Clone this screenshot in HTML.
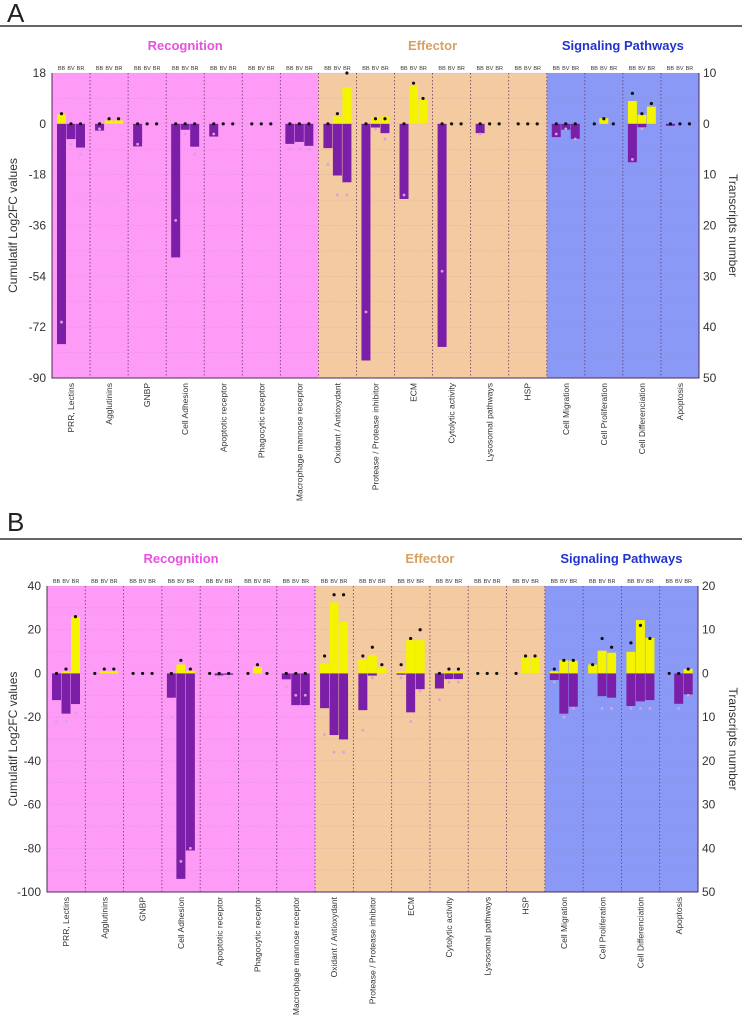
<!DOCTYPE html>
<html><head><meta charset="utf-8"><style>
body{margin:0;background:#fff;}
svg{display:block;font-family:"Liberation Sans",sans-serif;}
</style></head><body>
<svg id="chart" width="742" height="1019" viewBox="0 0 742 1019" xmlns="http://www.w3.org/2000/svg"></svg>
<script>
const categories = ["PRR, Lectins","Agglutinins","GNBP","Cell Adhesion","Apoptotic receptor","Phagocytic receptor","Macrophage mannose receptor","Oxidant / Antioxydant","Protease / Protease inhibitor","ECM","Cytolytic activity","Lysosomal pathways","HSP","Cell Migration","Cell Proliferation","Cell Differenciation","Apoptosis"];
const groupNames = ["Recognition","Effector","Signaling Pathways"];
const groupSizes = [7,6,4];
const conditions = ["BB","BV","BR"];
// Panel A (per category: BB, BV, BR)
const upA = [3.4,0,0, 0,1.2,1.2, 0,0,0, 0,0,0, 0,0,0, 0,0,0, 0,0,0, 0,2.6,12.9, 0,2.4,2.6, 0,13.5,8.5, 0,0,0, 0,0,0, 0,0,0, 0,0,0, 0,2,0, 8.1,3.2,6.1, 0,0,0];
const downA = [-78,-5.4,-8.4, -2.4,0,0, -8,0,0, -47.3,-2.1,-8.1, -4.5,0,0, 0,0,0, -7.1,-6.4,-7.8, -8.6,-18.3,-20.7, -83.8,-1.3,-3.3, -26.6,0,0, -79,0,0, -3.3,0,0, 0,0,0, -4.7,-2.1,-5.3, 0,0,0, -13.6,-1.2,0, -0.7,0,0];
const upCountA = [2,0,0, 0,1,1, 0,0,0, 0,0,0, 0,0,0, 0,0,0, 0,0,0, 0,2,10, 0,1,1, 0,8,5, 0,0,0, 0,0,0, 0,0,0, 0,0,0, 0,1,0, 6,2,4, 0,0,0];
const downCountA = [39,4,6, 1,0,0, 4,0,0, 19,2,6, 2,0,0, 0,0,0, 5,5,5, 8,14,14, 37,1,3, 14,0,0, 29,0,0, 2,0,0, 0,0,0, 2,1,3, 0,0,0, 7,1,0, 0,0,0];
// Panel B
const upB = [0,1,25.9, 0,1,1, 0,0,0, 0,4.1,1.2, 0,0,0, 0,3,0, 0,0,0, 4.6,32.5,23.5, 6.4,8.5,2.7, 1,15.2,15.2, 0,1,1, 0,0,0, 0,7.2,7.2, 1,6,5.8, 4.1,10.4,9.5, 9.9,24.4,16.3, 0,0,2.1];
const downB = [-12.2,-18.4,-14, 0,0,0, 0,0,0, -11.1,-94,-81, 0,-0.9,-0.6, 0,0,0, -2.7,-14.5,-14.5, -15.9,-28.2,-30.2, -16.8,-1,0, -0.6,-17.8,-7.2, -6.9,-2.6,-2.6, 0,0,0, 0,0,0, -3,-18.4,-15.2, 0,-10.4,-11.1, -14.9,-12.8,-12.2, 0,-13.9,-9.6];
const upCountB = [0,1,13, 0,1,1, 0,0,0, 0,3,1, 0,0,0, 0,2,0, 0,0,0, 4,18,18, 4,6,2, 2,8,10, 0,1,1, 0,0,0, 0,4,4, 1,3,3, 2,8,6, 7,11,8, 0,0,1];
const downCountB = [11,11,9, 0,0,0, 0,0,0, 10,43,40, 0,1,1, 0,0,0, 3,5,5, 14,18,18, 13,1,0, 1,11,4, 6,2,2, 0,0,0, 0,0,0, 2,10,8, 0,8,8, 8,8,8, 0,8,5];
const ticksA = [18,0,-18,-36,-54,-72,-90];
const rightTicksA = ["10","0","10","20","30","40","50"];
const ticksB = [40,20,0,-20,-40,-60,-80,-100];
const rightTicksB = ["20","10","0","10","20","30","40","50"];

const NS="http://www.w3.org/2000/svg";
const svg=document.getElementById('chart');
function mk(tag,attrs,parent){const e=document.createElementNS(NS,tag);for(const k in attrs)e.setAttribute(k,attrs[k]);(parent||svg).appendChild(e);return e;}
const bandColors=["#fd9bf6","#f4caa0","#8a98f6"];
const titleColors=["#e94fe0","#d9a062","#2234cf"];

function panel(p){
  const g=mk('g',{});
  
  
  const L=p.left,R=p.right,T=p.top,B=p.bottom;
  const y=v=>T+(p.max-v)/(p.max-p.min)*(B-T);
  const y0=y(0);
  const tScale=(y(p.min)-y0)/p.tMax;
  const yt=n=>y0-n*tScale;
  const ytd=n=>y0+n*tScale;
  const cw=(R-L)/categories.length;
  const cx=i=>L+i*cw;
  const t=mk('text',{x:7,y:p.letterY,'font-size':26,fill:'#222'},g);t.textContent=p.letter;
  
  const rule=mk('line',{x1:0,x2:742,y1:p.ruleY,y2:p.ruleY,stroke:'#333','stroke-width':1.5},g);
  
  let start=0;
  groupNames.forEach((gn,gi)=>{
    const r=mk('rect',{x:cx(start),y:T,width:groupSizes[gi]*cw,height:B-T,fill:bandColors[gi]},g);
    
    
    const tt=mk('text',{x:cx(start)+groupSizes[gi]*cw/2,y:p.titleY,'font-size':13,'font-weight':'bold',fill:titleColors[gi],'text-anchor':'middle'},g);
    tt.textContent=gn;
    
    
    start+=groupSizes[gi];
  });
  for(let v=p.min;v<=p.max+0.001;v+=p.grid){
    const gl=mk('line',{x1:L,x2:R,y1:y(v),y2:y(v),stroke:'#b090b0','stroke-width':0.5,'stroke-dasharray':'1.5,1.5',opacity:0.45},g);
    
  }
  for(let i=1;i<categories.length;i++){
    const vl=mk('line',{x1:cx(i),x2:cx(i),y1:T,y2:B,stroke:'#6a3a6a','stroke-width':0.8,'stroke-dasharray':'1.5,2'},g);
    
  }
  categories.forEach((c,i)=>{
    conditions.forEach((cd,j)=>{
      const k=i*3+j;
      const bx=cx(i)+5+j*9.5, bw=9;
      if(p.up[k]>0){const r=mk('rect',{x:bx,y:y(p.up[k]),width:bw,height:y0-y(p.up[k]),fill:'#f4f400'},g);
        }
      if(p.down[k]<0){const r=mk('rect',{x:bx,y:y0,width:bw,height:y(p.down[k])-y0,fill:'#7b1fa8'},g);
        }
      const dd=mk('circle',{cx:bx+bw/2,cy:ytd(p.downCount[k]),r:1.4,fill:p.downCount[k]>0?'#d9a0d9':'none'},g);
      
      const ud=mk('circle',{cx:bx+bw/2,cy:yt(p.upCount[k]),r:1.6,fill:'#111'},g);
      
      const lb=mk('text',{x:bx+bw/2,y:T-3,'font-size':5.5,fill:'#333','text-anchor':'middle'},g);
      lb.textContent=cd;
    });
    const cl=mk('text',{x:0,y:0,'font-size':8.5,fill:'#333','text-anchor':'end',transform:`translate(${cx(i)+cw/2+3},${B+5}) rotate(-90)`},g);
    cl.textContent=c;
  });
  const ax=mk('path',{d:`M${L},${T}V${B}H${R}V${T}`,fill:'none',stroke:'#4a2a5a','stroke-width':1},g);
  
  p.ticks.forEach(v=>{
    const tl=mk('text',{x:L-6,y:y(v)+4,'font-size':12,fill:'#333','text-anchor':'end'},g);
    tl.textContent=v;
  });
  p.rticks.forEach((s,i)=>{
    const yy=T+i*(B-T)/(p.rticks.length-1);
    const tl=mk('text',{x:R+4,y:yy+4,'font-size':12,fill:'#333'},g);
    tl.textContent=s;
  });
  const yl=mk('text',{x:0,y:0,'font-size':12,fill:'#333','text-anchor':'middle',transform:`translate(17,${(T+B)/2}) rotate(-90)`},g);
  yl.textContent='Cumulatif Log2FC values';
  const yr=mk('text',{x:0,y:0,'font-size':12,fill:'#333','text-anchor':'middle',transform:`translate(729,${(T+B)/2}) rotate(90)`},g);
  yr.textContent='Transcripts number';
}
panel({letter:'A',letterY:22,ruleY:26,titleY:50,left:52,right:699,top:73,bottom:378,max:18,min:-90,grid:9,tMax:50,ticks:ticksA,rticks:rightTicksA,up:upA,down:downA,upCount:upCountA,downCount:downCountA});
panel({letter:'B',letterY:531,ruleY:539,titleY:563,left:47,right:698,top:586,bottom:892,max:40,min:-100,grid:10,tMax:50,ticks:ticksB,rticks:rightTicksB,up:upB,down:downB,upCount:upCountB,downCount:downCountB});
</script>
</body></html>
